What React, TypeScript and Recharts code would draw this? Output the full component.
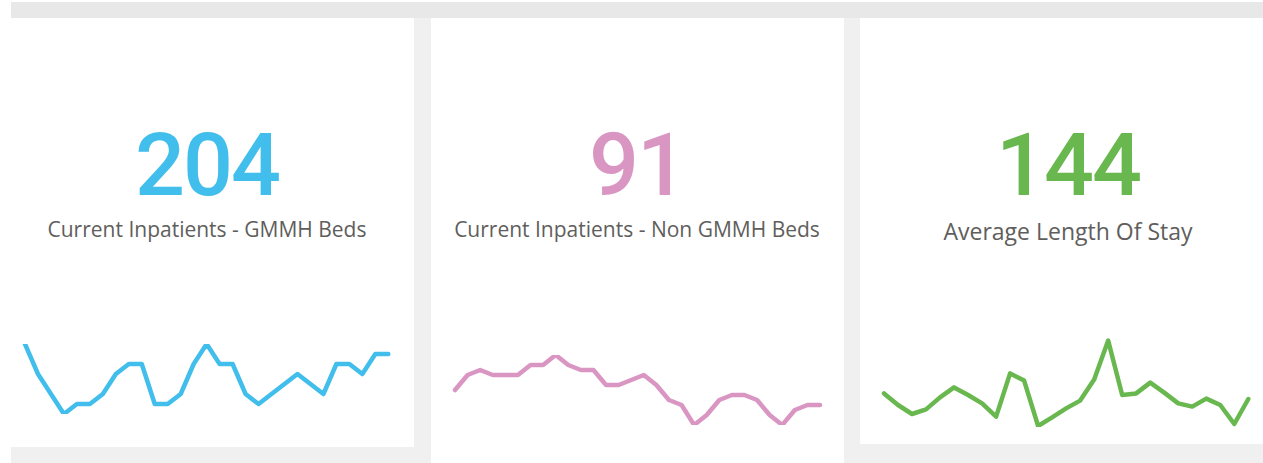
import React from "react";
import { LineChart, Line, XAxis, YAxis } from "recharts";

const gmmhBeds: number[] = [205, 202, 200, 198, 199, 199, 200, 202, 203, 203, 199, 199, 200, 203, 205, 203, 203, 200, 199, 200, 201, 202, 201, 200, 203, 203, 202, 204, 204];
const nonGmmhBeds: number[] = [94, 97, 98, 97, 97, 97, 99, 99, 101, 99, 98, 98, 95, 95, 96, 97, 95, 92, 91, 87, 89, 92, 93, 93, 92, 89, 87, 90, 91, 91];
const avgStay: number[] = [146.8, 141, 136.5, 138.8, 144.8, 149.8, 146, 141.8, 135.2, 156.8, 153.2, 130.5, 134.8, 139.3, 143.2, 153.8, 173.2, 146, 146.8, 152.2, 147.2, 141.8, 140.2, 144.2, 141, 131.5, 144];

const kpiValues = ["204", "91", "144"];
const kpiLabels = ["Current Inpatients - GMMH Beds", "Current Inpatients - Non GMMH Beds", "Average Length Of Stay"];
const colors = ["#41BEEB", "#DA96C2", "#69B84F"];

const toRows = (arr: number[]) => arr.map((v, i) => ({ i, v }));

type SparkProps = {
  data: number[];
  color: string;
  left: number;
  top: number;
  width: number;
  height: number;
  domain: [number, number];
};

function Spark({ data, color, left, top, width, height, domain }: SparkProps) {
  return (
    <div style={{ position: "absolute", left, top, width, height }}>
      <LineChart width={width} height={height} data={toRows(data)} margin={{ top: 10, right: 10, bottom: 10, left: 10 }}>
        <XAxis dataKey="i" hide />
        <YAxis hide domain={domain} allowDataOverflow />
        <Line
          type="linear"
          dataKey="v"
          stroke={color}
          strokeWidth={4.5}
          dot={false}
          activeDot={false}
          strokeLinejoin="round"
          strokeLinecap="round"
          isAnimationActive={false}
        />
      </LineChart>
    </div>
  );
}

const centers = [207, 637, 1068];
const labelBaselines = [237, 237, 240];
const labelSizes = [21, 21, 23];

export default function App() {
  return (
    <div style={{ position: "absolute", left: 0, top: 0, width: 1263, height: 463, background: "#FFFFFF", overflow: "hidden" }}>
      <div style={{ position: "absolute", left: 11, top: 2, width: 1252, height: 461, background: "#F0F0F0" }} />
      <div style={{ position: "absolute", left: 11, top: 2, width: 1252, height: 16, background: "#E8E8E8" }} />
      <div style={{ position: "absolute", left: 11, top: 18, width: 403, height: 429, background: "#FFFFFF" }} />
      <div style={{ position: "absolute", left: 431, top: 18, width: 413, height: 445, background: "#FFFFFF" }} />
      <div style={{ position: "absolute", left: 860, top: 18, width: 416, height: 426, background: "#FFFFFF" }} />
      <svg style={{ position: "absolute", left: 0, top: 0 }} width={1263} height={463}>
        {kpiValues.map((v, k) => (
          <text
            key={"v" + k}
            x={centers[k]}
            y={195}
            textAnchor="middle"
            fill={colors[k]}
            style={{ fontFamily: "Roboto", fontSize: 88, fontWeight: 500, letterSpacing: -2 }}
          >
            {v}
          </text>
        ))}
        {kpiLabels.map((t, k) => (
          <text
            key={"l" + k}
            x={centers[k]}
            y={labelBaselines[k]}
            textAnchor="middle"
            fill="#605E5C"
            style={{ fontFamily: "'Open Sans'", fontSize: labelSizes[k] }}
          >
            {t}
          </text>
        ))}
      </svg>
      <Spark data={gmmhBeds} color={colors[0]} left={15} top={334} width={383.3} height={90} domain={[198, 205]} />
      <Spark data={nonGmmhBeds} color={colors[1]} left={445} top={345} width={385} height={90} domain={[87, 101]} />
      <Spark data={avgStay} color={colors[2]} left={874} top={327} width={384.3} height={110} domain={[130, 175]} />
    </div>
  );
}
